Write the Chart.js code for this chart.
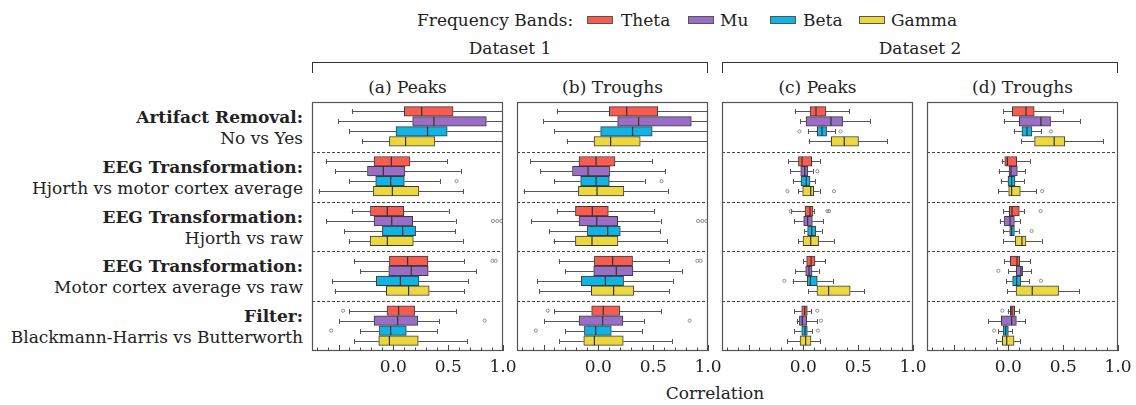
<!DOCTYPE html>
<html><head><meta charset="utf-8">
<script src="https://cdn.jsdelivr.net/npm/chart.js@4"></script>
<style>
html,body{margin:0;padding:0;background:#fff;}
body{width:1136px;height:405px;position:relative;overflow:hidden;font-family:"DejaVu Serif",serif;color:#222;}
.t{position:absolute;white-space:nowrap;line-height:1;transform:translateY(-50%);font-size:17px;}
.c{transform:translate(-50%,-50%);}
.r{text-align:right;}
.b{font-weight:bold;}
.sw{position:absolute;width:24px;height:6px;border:1px solid #555;}
.br{position:absolute;border:1px solid #333;border-bottom:none;height:10px;}
canvas{position:absolute;}
</style></head>
<body>
<div id="root"></div>
<script>
// ---- data ----
const bands = ['Theta','Mu','Beta','Gamma'];
const bandColors = ['#f85b4f','#9a6ec6','#0fb4e2','#ecd83e'];
const comparisons = [['Artifact Removal:','No vs Yes'],['EEG Transformation:','Hjorth vs motor cortex average'],['EEG Transformation:','Hjorth vs raw'],['EEG Transformation:','Motor cortex average vs raw'],['Filter:','Blackmann-Harris vs Butterworth']];
const panelTitles = ['(a) Peaks','(b) Troughs','(c) Peaks','(d) Troughs'];
const datasetTitles = ['Dataset 1','Dataset 2'];
const tickLabels = [0.0, 0.5, 1.0];
const xMin = -0.742, xMax = 1.0;
// [whiskerLow, q1, median, q3, whiskerHigh] per comparison
const aTheta = [[-0.379,0.10,0.258,0.545,1.0],[-0.618,-0.176,-0.018,0.152,0.491],[-0.379,-0.209,-0.055,0.094,0.506],[-0.361,-0.036,0.13,0.315,0.648],[-0.403,-0.058,0.048,0.194,0.57]];
const aMu = [[-0.506,0.176,0.37,0.848,1.0],[-0.53,-0.236,-0.091,0.106,0.615],[-0.612,-0.176,-0.015,0.176,0.567],[-0.30,-0.042,0.164,0.318,0.758],[-0.494,-0.176,0.039,0.224,0.418]];
const aBeta = [[-0.403,0.024,0.312,0.491,1.0],[-0.403,-0.161,-0.024,0.10,0.424],[-0.448,-0.10,0.085,0.203,0.564],[-0.561,-0.155,0.064,0.233,0.682],[-0.303,-0.127,-0.024,0.118,0.40]];
const aGamma = [[-0.288,-0.036,0.112,0.379,1.0],[-0.682,-0.182,-0.009,0.233,0.636],[-0.406,-0.212,-0.055,0.182,0.633],[-0.536,-0.064,0.139,0.327,0.645],[-0.358,-0.133,-0.036,0.227,0.673]];
const aOut = [[1,2,0.576],[2,1,0.909],[2,1,0.948],[2,1,0.985],[3,0,0.903],[3,0,0.933],[4,0,-0.458],[4,1,0.833],[4,2,-0.567]];

const bTheta = [[-0.379,0.10,0.258,0.542,1.0],[-0.621,-0.176,-0.021,0.152,0.491],[-0.379,-0.209,-0.055,0.091,0.506],[-0.361,-0.036,0.13,0.312,0.648],[-0.403,-0.061,0.045,0.194,0.57]];
const bMu = [[-0.503,0.176,0.367,0.848,1.0],[-0.533,-0.236,-0.094,0.106,0.612],[-0.615,-0.176,-0.015,0.176,0.567],[-0.30,-0.042,0.164,0.315,0.761],[-0.494,-0.176,0.039,0.224,0.418]];
const bBeta = [[-0.403,0.021,0.312,0.491,1.0],[-0.406,-0.161,-0.021,0.10,0.421],[-0.448,-0.10,0.085,0.20,0.564],[-0.561,-0.155,0.064,0.23,0.679],[-0.303,-0.127,-0.024,0.118,0.40]];
const bGamma = [[-0.288,-0.039,0.112,0.382,1.0],[-0.682,-0.182,-0.012,0.233,0.633],[-0.409,-0.209,-0.058,0.179,0.63],[-0.539,-0.064,0.139,0.324,0.645],[-0.358,-0.133,-0.036,0.227,0.673]];
const bOut = [[1,2,0.576],[2,1,0.909],[2,1,0.948],[2,1,0.985],[3,0,0.903],[3,0,0.933],[4,0,-0.461],[4,1,0.833],[4,2,-0.57]];

const cTheta = [[-0.079,0.061,0.115,0.206,0.418],[-0.139,-0.045,-0.012,0.076,0.152],[-0.109,0.015,0.061,0.088,0.097],[0.0,0.03,0.07,0.106,0.20],[-0.085,-0.015,0.012,0.036,0.07]];
const cMu = [[-0.03,0.024,0.252,0.358,0.609],[-0.118,-0.024,0.012,0.039,0.085],[-0.088,0.003,0.039,0.082,0.182],[-0.076,0.021,0.052,0.079,0.139],[-0.061,-0.036,-0.009,0.03,0.124]];
const cBeta = [[0.042,0.127,0.17,0.212,0.291],[-0.097,-0.021,0.027,0.061,0.109],[0.009,0.039,0.076,0.112,0.167],[-0.097,0.036,0.064,0.127,0.267],[-0.082,-0.015,0.015,0.036,0.079]];
const cGamma = [[0.048,0.255,0.373,0.503,0.767],[-0.048,-0.006,0.067,0.094,0.148],[-0.048,-0.003,0.067,0.139,0.279],[0.045,0.124,0.23,0.427,0.552],[-0.145,-0.03,0.021,0.07,0.155]];
const cOut = [[0,2,-0.036],[0,2,0.339],[1,1,0.127],[1,3,-0.145],[1,3,0.279],[2,0,-0.115],[2,0,0.22],[2,0,0.235],[3,2,-0.173],[4,0,0.127],[4,1,0.161],[4,2,0.133]];

const dTheta = [[-0.048,0.036,0.161,0.236,0.494],[-0.061,-0.033,-0.009,0.076,0.197],[-0.045,0.009,0.033,0.10,0.145],[-0.036,0.018,0.079,0.103,0.197],[-0.006,0.018,0.033,0.058,0.094]];
const dMu = [[-0.042,0.10,0.297,0.385,0.652],[-0.088,0.006,0.024,0.082,0.155],[-0.079,-0.036,0.015,0.055,0.106],[0.0,0.073,0.115,0.13,0.209],[-0.182,-0.064,0.03,0.073,0.155]];
const dBeta = [[0.048,0.124,0.17,0.215,0.30],[-0.07,-0.003,0.03,0.061,0.145],[-0.048,0.012,0.03,0.055,0.094],[-0.021,0.039,0.076,0.112,0.188],[-0.091,-0.048,-0.024,0.0,0.036]];
const dGamma = [[0.115,0.239,0.418,0.515,0.864],[-0.091,0.003,0.03,0.109,0.252],[-0.048,0.064,0.124,0.161,0.303],[-0.012,0.07,0.218,0.458,0.648],[-0.109,-0.055,-0.015,0.052,0.109]];
const dOut = [[0,2,0.388],[1,3,0.309],[2,0,0.294],[2,2,0.212],[3,1,-0.091],[3,2,0.297],[4,0,-0.055],[4,2,-0.13]];

const panelStats = [[aTheta,aMu,aBeta,aGamma],[bTheta,bMu,bBeta,bGamma],[cTheta,cMu,cBeta,cGamma],[dTheta,dMu,dBeta,dGamma]];
const panelOut = [aOut,bOut,cOut,dOut];

// ---- layout ----
const panelLeft = [312, 517, 722, 927];
const panelW = 191, panelTop = 102, panelH = 249;
const padL = 20, padR = 20, padT = 5, padB = 40;
const root = document.getElementById('root');
function txt(s, x, y, cls){ const d=document.createElement('div'); d.className='t '+(cls||''); d.textContent=s; d.style.left=x+'px'; d.style.top=y+'px'; root.appendChild(d); return d; }

// legend
txt('Frequency Bands:', 417, 20);
const swX = [587, 688, 770, 859], lbX = [621, 720, 803, 891];
bands.forEach((b,i)=>{ const s=document.createElement('div'); s.className='sw'; s.style.left=swX[i]+'px'; s.style.top='16px'; s.style.background=bandColors[i]; root.appendChild(s); txt(b, lbX[i], 20); });

// dataset brackets
[[panelLeft[0], panelLeft[1]+panelW],[panelLeft[2], panelLeft[3]+panelW]].forEach((r,i)=>{
  const d=document.createElement('div'); d.className='br'; d.style.left=r[0]+'px'; d.style.top='62px'; d.style.width=(r[1]-r[0]-2)+'px'; root.appendChild(d);
  txt(datasetTitles[i], (r[0]+r[1])/2, 48, 'c');
});
panelTitles.forEach((t,i)=> txt(t, panelLeft[i]+panelW/2, 87, 'c'));

// row labels
comparisons.forEach((c,g)=>{
  const cy = panelTop + panelH/5*(g+0.5);
  const a = txt(c[0], 0, cy-10, 'r b'); a.style.right=(1136-303)+'px'; a.style.left='auto';
  const b = txt(c[1], 0, cy+11, 'r'); b.style.right=(1136-303)+'px'; b.style.left='auto';
});
txt('Correlation', (panelLeft[0]+panelLeft[3]+panelW)/2, 393, 'c');

const boxPos = (g,b)=> g*5 + b + 0.95;

const boxPlugin = {
  id:'boxExtras',
  beforeDatasetsDraw(chart){
    const {ctx, chartArea:ca} = chart; const xs=chart.scales.x, ys=chart.scales.y;
    const stats = chart.options.plugins.boxExtras.stats;
    ctx.save(); ctx.beginPath(); ctx.rect(ca.left, ca.top, ca.right-ca.left, ca.bottom-ca.top); ctx.clip();
    ctx.strokeStyle='#555'; ctx.lineWidth=1;
    stats.forEach((arr,bi)=>arr.forEach((s,g)=>{
      const y = Math.round(ys.getPixelForValue(boxPos(g,bi)))+0.5;
      const xl=xs.getPixelForValue(s[0]), x1=xs.getPixelForValue(s[1]), x3=xs.getPixelForValue(s[3]), xh=xs.getPixelForValue(s[4]);
      ctx.beginPath(); ctx.moveTo(xl,y); ctx.lineTo(x1,y); ctx.moveTo(x3,y); ctx.lineTo(xh,y);
      ctx.moveTo(Math.round(xl)+0.5,y-2.5); ctx.lineTo(Math.round(xl)+0.5,y+2.5);
      ctx.moveTo(Math.round(xh)+0.5,y-2.5); ctx.lineTo(Math.round(xh)+0.5,y+2.5);
      ctx.stroke();
    }));
    ctx.restore();
  },
  afterDatasetsDraw(chart){
    const {ctx} = chart; const xs=chart.scales.x, ys=chart.scales.y;
    const stats = chart.options.plugins.boxExtras.stats;
    ctx.save(); ctx.strokeStyle='#333'; ctx.lineWidth=1.2;
    stats.forEach((arr,bi)=>arr.forEach((s,g)=>{
      const y = ys.getPixelForValue(boxPos(g,bi)); const x = xs.getPixelForValue(s[2]);
      ctx.beginPath(); ctx.moveTo(x,y-4.6); ctx.lineTo(x,y+4.6); ctx.stroke();
    }));
    ctx.restore();
  },
  afterDraw(chart){
    const {ctx, chartArea:ca} = chart; const xs=chart.scales.x, ys=chart.scales.y;
    ctx.save();
    ctx.strokeStyle='#444'; ctx.lineWidth=1; ctx.setLineDash([3,2]);
    [5,10,15,20].forEach(v=>{ const y=Math.round(ys.getPixelForValue(v))+0.5; ctx.beginPath(); ctx.moveTo(ca.left,y); ctx.lineTo(ca.right,y); ctx.stroke(); });
    ctx.setLineDash([]);
    ctx.strokeStyle='#555'; ctx.lineWidth=1.2;
    ctx.strokeRect(Math.round(ca.left)+0.5, Math.round(ca.top)+0.5, Math.round(ca.right-ca.left)-1, Math.round(ca.bottom-ca.top)-1);
    ctx.strokeStyle='#444'; ctx.lineWidth=1;
    for(let k=-7;k<=10;k++){
      const v=k/10; const x=Math.round(xs.getPixelForValue(v))+0.5; const major = (k%5===0);
      ctx.beginPath(); ctx.moveTo(x, ca.bottom); ctx.lineTo(x, ca.bottom-(major?6:3.5)); ctx.stroke();
    }
    ctx.fillStyle='#222'; ctx.font='17px "DejaVu Serif"'; ctx.textAlign='center'; ctx.textBaseline='middle';
    tickLabels.forEach(v=> ctx.fillText(v.toFixed(1), xs.getPixelForValue(v), ca.bottom+17));
    ctx.restore();
  }
};

panelStats.forEach((stats,pi)=>{
  const cv=document.createElement('canvas');
  const W=panelW+padL+padR, H=panelH+padT+padB;
  cv.width=W; cv.height=H; cv.style.width=W+'px'; cv.style.height=H+'px';
  cv.style.left=(panelLeft[pi]-padL)+'px'; cv.style.top=(panelTop-padT)+'px';
  document.body.appendChild(cv);
  const datasets = bands.map((b,bi)=>({
    type:'bar', indexAxis:'y', label:b,
    data: stats[bi].map((s,g)=>({x:[s[1],s[3]], y:boxPos(g,bi)})),
    backgroundColor: bandColors[bi], borderColor:'#3a3a3a', borderWidth:1, borderSkipped:false,
    barThickness:9.6, grouped:false
  }));
  datasets.push({
    type:'scatter', label:'outliers',
    data: panelOut[pi].map(o=>({x:o[2], y:boxPos(o[0],o[1])})),
    pointRadius:1.6, pointBorderWidth:0.8, borderColor:'#777', backgroundColor:'rgba(255,255,255,0)'
  });
  new Chart(cv.getContext('2d'), {
    data:{datasets},
    options:{
      responsive:false, animation:false, devicePixelRatio:1,
      layout:{padding:{left:padL,right:padR,top:padT,bottom:padB}},
      scales:{
        x:{type:'linear', min:xMin, max:xMax, display:false, offset:false},
        y:{type:'linear', min:0, max:25, reverse:true, display:false, offset:false}
      },
      plugins:{legend:{display:false}, tooltip:{enabled:false}, boxExtras:{stats}}
    },
    plugins:[boxPlugin]
  });
});
</script>
</body></html>
